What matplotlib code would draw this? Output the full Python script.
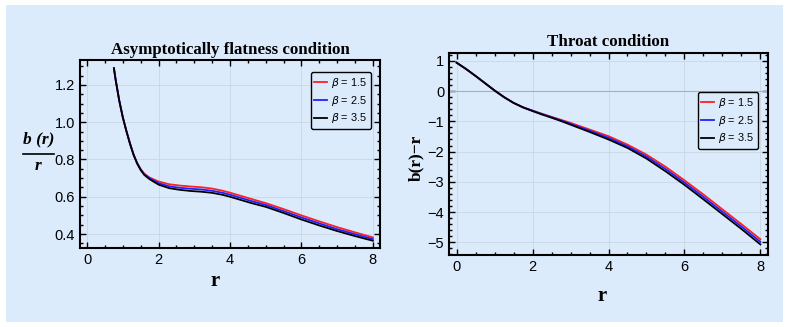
import numpy as np
import matplotlib.pyplot as plt
from matplotlib.patches import Rectangle
from matplotlib.lines import Line2D

# left panel: b(r)/r
r_left = [0.75, 0.8, 0.9, 1.0, 1.1, 1.2, 1.3, 1.4, 1.5, 1.6, 1.75, 2.0, 2.3, 2.6, 2.9, 3.2, 3.5,
          3.8, 4.0, 4.3, 4.6, 5.0, 5.5, 6.0, 6.5, 7.0, 7.5, 8.0]
flat_15 = [1.29, 1.225, 1.115, 1.025, 0.952, 0.885, 0.827, 0.782, 0.748, 0.724, 0.703, 0.682, 0.667, 0.660,
           0.655, 0.651, 0.644, 0.632, 0.622, 0.605, 0.588, 0.566, 0.534, 0.500, 0.468, 0.437, 0.409, 0.382]
flat_25 = [1.29, 1.225, 1.115, 1.025, 0.952, 0.885, 0.826, 0.780, 0.746, 0.721, 0.699, 0.673, 0.656, 0.648,
           0.643, 0.639, 0.632, 0.621, 0.611, 0.594, 0.577, 0.556, 0.523, 0.489, 0.457, 0.426, 0.399, 0.373]
flat_35 = [1.29, 1.225, 1.115, 1.025, 0.952, 0.885, 0.825, 0.778, 0.743, 0.717, 0.694, 0.665, 0.646, 0.637,
           0.631, 0.627, 0.621, 0.610, 0.600, 0.583, 0.566, 0.546, 0.513, 0.478, 0.446, 0.416, 0.389, 0.364]

# right panel: b(r) - r
r_right = [0.0, 0.25, 0.5, 0.75, 1.0, 1.25, 1.5, 1.75, 2.0, 2.25, 2.5, 2.75, 3.0, 3.5, 4.0, 4.5,
           5.0, 5.5, 6.0, 6.5, 7.0, 7.5, 8.0]
throat_15 = [0.94, 0.73, 0.50, 0.26, 0.02, -0.20, -0.39, -0.535, -0.645, -0.75, -0.85, -0.95, -1.05,
             -1.27, -1.49, -1.77, -2.10, -2.50, -2.95, -3.42, -3.91, -4.40, -4.90]
throat_25 = [0.94, 0.73, 0.50, 0.26, 0.02, -0.20, -0.39, -0.537, -0.65, -0.76, -0.865, -0.97, -1.08,
             -1.31, -1.545, -1.825, -2.165, -2.575, -3.025, -3.50, -3.99, -4.48, -4.985]
throat_35 = [0.94, 0.73, 0.50, 0.26, 0.02, -0.20, -0.39, -0.54, -0.66, -0.775, -0.88, -0.99, -1.11,
             -1.35, -1.60, -1.88, -2.23, -2.65, -3.10, -3.58, -4.07, -4.56, -5.07]

betas = ['1.5', '2.5', '3.5']
colors = ['#ff2020', '#2020ff', '#000000']
bg = '#dcebfc'

plt.rcParams['font.family'] = ['Liberation Sans', 'DejaVu Sans']
plt.rcParams['mathtext.fontset'] = 'dejavusans'

fig = plt.figure(figsize=(7.9, 3.27), dpi=100)
fig.patches.append(Rectangle((6 / 790, 5 / 327), 777 / 790, 317 / 327, transform=fig.transFigure,
                             facecolor=bg, edgecolor='none', zorder=-10))

ax1 = fig.add_axes([80 / 790, 1 - 248 / 327, 300 / 790, 188 / 327])
ax2 = fig.add_axes([449 / 790, 1 - 255 / 327, 319 / 790, 202 / 327])


def style_axes(ax):
    ax.set_facecolor(bg)
    for s in ax.spines.values():
        s.set_linewidth(1.5)
    ax.tick_params(which='both', direction='in', top=True, right=True, labelsize=10.5, width=1)
    ax.tick_params(which='major', length=4)
    ax.tick_params(which='minor', length=2)
    ax.minorticks_on()
    ax.grid(True, which='major', color='#c9d6e3', linewidth=0.6)
    ax.set_axisbelow(True)


title_font = dict(fontfamily='Liberation Serif', fontweight='bold', fontsize=12.2)
leg_kw = dict(fontsize=7.8, frameon=True, fancybox=True, edgecolor='black', facecolor=bg,
              framealpha=1, handlelength=1.2, handletextpad=0.35, borderpad=0.35,
              labelspacing=0.35, borderaxespad=0)

for ys, c, b in zip([flat_15, flat_25, flat_35], colors, betas):
    ax1.plot(r_left, ys, color=c, lw=1.3, label=rf'$\beta$ = {b}')
ax1.set_xlim(-0.2, 8.2)
ax1.set_ylim(0.325, 1.334)
ax1.set_xticks([0, 2, 4, 6, 8])
ax1.set_yticks([0.4, 0.6, 0.8, 1.0, 1.2])
ax1.set_yticklabels(['0.4', '0.6', '0.8', '1.0', '1.2'])
style_axes(ax1)
ax1.set_title('Asymptotically flatness condition', pad=4, **title_font)
ax1.set_xlabel('r', fontfamily='Liberation Serif', fontweight='bold', fontsize=15)
ax1.xaxis.set_label_coords(0.45, -0.12)
ax1.legend(loc='upper right', bbox_to_anchor=(0.97, 0.936), **leg_kw)

# fraction-style y label b(r)/r
frac_font = dict(fontfamily='Liberation Serif', fontstyle='italic', fontweight='bold', fontsize=12.5,
                 ha='center', va='center')
fig.text(38.5 / 790, 1 - 139 / 327, 'b (r)', **frac_font)
fig.text(38.5 / 790, 1 - 166 / 327, 'r', **frac_font)
fig.lines.append(Line2D([23 / 790, 54 / 790], [1 - 153.5 / 327, 1 - 153.5 / 327],
                        transform=fig.transFigure, color='black', lw=1.2))

for ys, c, b in zip([throat_15, throat_25, throat_35], colors, betas):
    ax2.plot(r_right, ys, color=c, lw=1.3, label=rf'$\beta$ = {b}')
ax2.axhline(0, color='#a3b0bd', lw=0.8, zorder=1)
ax2.set_xlim(-0.2, 8.2)
ax2.set_ylim(-5.42, 1.26)
ax2.set_xticks([0, 2, 4, 6, 8])
ax2.set_yticks([-5, -4, -3, -2, -1, 0, 1])
ax2.set_yticklabels(['\u22125', '\u22124', '\u22123', '\u22122', '\u22121', '0', '1'])
style_axes(ax2)
ax2.set_title('Throat condition', pad=5, **title_font)
ax2.set_xlabel('r', fontfamily='Liberation Serif', fontweight='bold', fontsize=15)
ax2.xaxis.set_label_coords(0.48, -0.155)
ax2.set_ylabel('b(r)\u2212r', fontfamily='Liberation Serif', fontweight='bold', fontsize=12.5)
ax2.yaxis.set_label_coords(-0.078, 0.483)
ax2.legend(loc='upper right', bbox_to_anchor=(0.969, 0.807), **leg_kw)

fig.savefig('out.png', dpi=100, facecolor='white')
